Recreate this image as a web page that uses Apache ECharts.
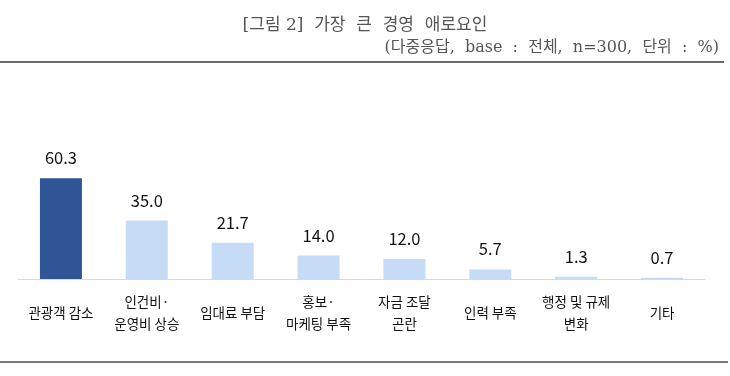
<!DOCTYPE html>
<html style="height: 100%">
  <head>
    <meta charset="UTF-8" />
    <title>가장 큰 경영 애로요인</title>
    <script src="https://cdn.jsdelivr.net/npm/echarts/dist/echarts.min.js"></script>
  </head>
  <body style="height: 100%; margin: 0; background: #fff">
    <div id="main" style="width: 730px; height: 376px"></div>
    <script>
      // 데이터
      var categories = ['관광객 감소', '인건비·\n운영비 상승', '임대료 부담', '홍보·\n마케팅 부족',
        '자금 조달\n곤란', '인력 부족', '행정 및 규제\n변화', '기타'];
      var values = [60.3, 35.0, 21.7, 14.0, 12.0, 5.7, 1.3, 0.7];

      var chart = echarts.init(document.getElementById('main'));

      var option = {
        backgroundColor: '#fff',
        title: [
          {
            text: '[그림 2]  가장  큰  경영  애로요인',
            left: 'center',
            top: 12,
            textStyle: { fontFamily: 'DejaVu Serif, Noto Sans CJK KR', fontSize: 17, fontWeight: 'normal', color: '#555' }
          },
          {
            text: '(다중응답,  base  :  전체,  n=300,  단위  :  %)',
            right: 6,
            top: 35,
            textStyle: { fontFamily: 'DejaVu Serif, Noto Sans CJK KR', fontSize: 16, fontWeight: 'normal', color: '#555' }
          }
        ],
        graphic: [
          { type: 'rect', shape: { x: 0, y: 61, width: 724, height: 2 }, style: { fill: '#6b6b6b' } },
          { type: 'rect', shape: { x: 0, y: 361, width: 728, height: 2 }, style: { fill: '#7a7a7a' } }
        ],
        grid: { left: 18, right: 25, top: 112, bottom: 97 },
        xAxis: {
          type: 'category',
          data: categories,
          axisLine: { lineStyle: { color: '#d9d9d9', width: 1 } },
          axisTick: { show: false },
          axisLabel: {
            interval: 0,
            margin: 34,
            verticalAlign: 'middle',
            lineHeight: 22,
            fontSize: 13.5,
            color: '#111',
            fontFamily: 'Noto Sans CJK KR'
          }
        },
        yAxis: {
          type: 'value',
          min: 0,
          max: 100,
          show: false
        },
        series: [
          {
            type: 'bar',
            data: values.map(function (v, i) {
              return { value: v, itemStyle: { color: i === 0 ? '#2F5597' : '#C6DCF6' } };
            }),
            barWidth: 42,
            label: {
              show: true,
              position: 'top',
              distance: 12,
              fontSize: 16.5,
              color: '#111',
              fontFamily: 'Noto Sans CJK KR',
              formatter: function (p) { return p.value.toFixed(1); }
            }
          }
        ]
      };

      chart.setOption(option);
    </script>
  </body>
</html>
